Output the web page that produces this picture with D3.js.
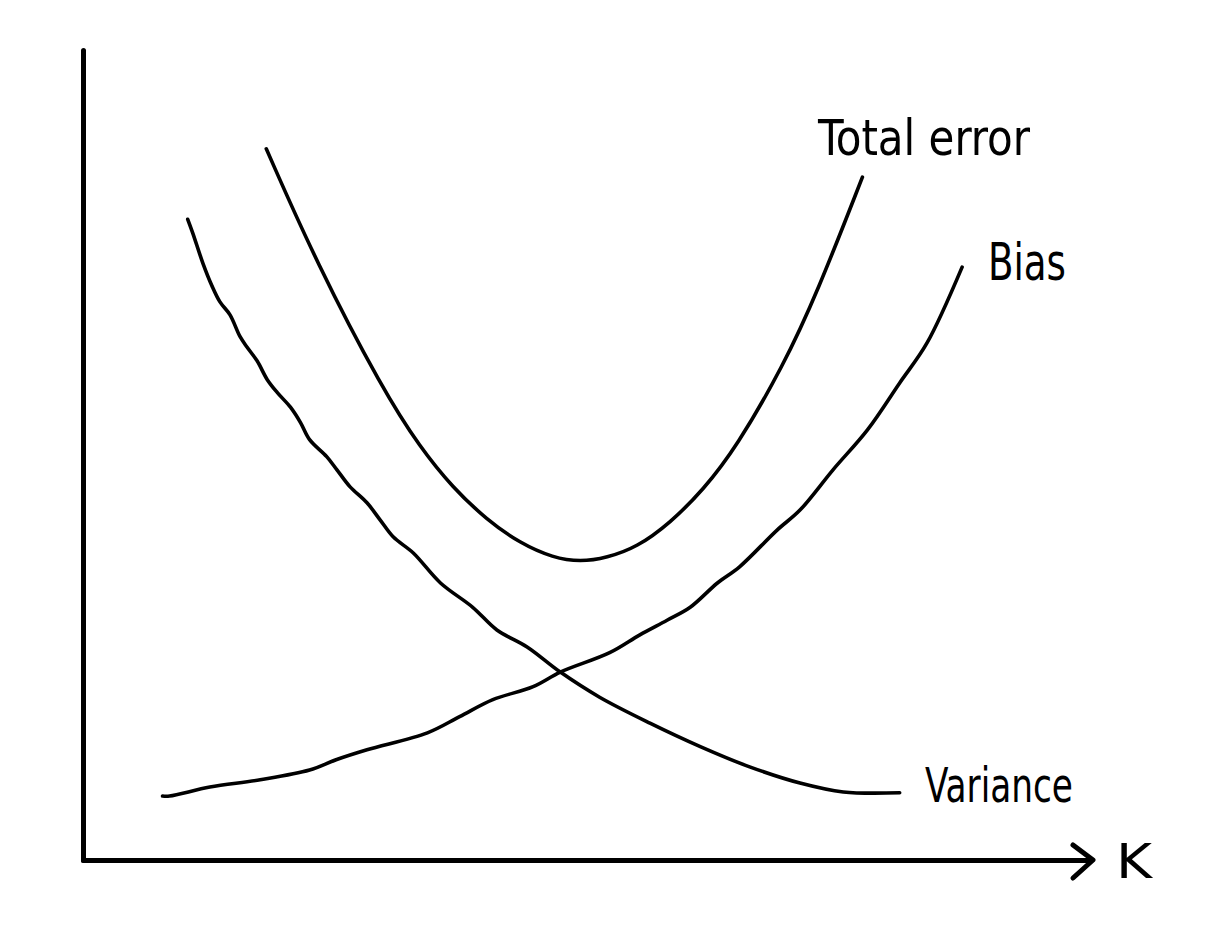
<!DOCTYPE html>
<html>
<head>
<meta charset="utf-8">
<script src="https://cdn.jsdelivr.net/npm/d3@7"></script>
<style>
  html, body { margin: 0; padding: 0; background: #fff; }
  svg text { font-family: "Liberation Sans Narrow", "DejaVu Sans Condensed", "Noto Sans", sans-serif; fill: #000; }
</style>
</head>
<body>
<svg id="grafico" width="1215" height="927"></svg>
<script>
// Dados (x = K, y = erro), em unidades de 0 a 100
const totalX = [18.2, 23.2, 29.8, 33.5, 36.7, 40.1, 43.4, 46.7, 49.4, 52.0, 55.0, 58.3, 61.6, 64.9, 69.5, 72.9, 77.4];
const totalY = [87.8, 73.7, 58.0, 50.9, 46.0, 42.0, 39.1, 37.3, 36.8, 37.3, 38.6, 41.6, 45.7, 51.0, 60.9, 70.0, 84.3];

const biasX = [7.9, 8.6, 12.6, 17.6, 22.5, 25.2, 28.2, 34.2, 37.4, 40.7, 44.7, 47.4, 52.3, 55.3, 58.0, 60.3, 63.0, 65.2, 68.9, 71.2, 74.5, 77.9, 81.1, 83.8, 87.3];
const biasY = [7.9, 7.9, 9.0, 9.9, 11.1, 12.4, 13.6, 15.7, 17.7, 19.8, 21.4, 23.2, 25.6, 27.8, 29.6, 31.2, 34.2, 36.2, 40.7, 43.2, 48.2, 53.1, 58.9, 63.8, 73.2];

const varX = [10.4, 10.9, 11.9, 12.8, 13.6, 14.6, 15.6, 16.3, 17.3, 18.3, 19.3, 20.6, 21.6, 22.5, 24.2, 25.2, 26.5, 28.2, 29.5, 30.8, 32.8, 35.5, 38.7, 41.1, 44.1, 47.4, 51.3, 56.3, 61.3, 66.2, 71.2, 75.5, 81.1];
const varY = [79.1, 77.4, 73.7, 70.9, 68.9, 67.3, 64.6, 63.3, 61.6, 59.3, 57.7, 55.9, 54.0, 51.9, 49.8, 48.2, 46.1, 44.1, 42.0, 39.9, 37.9, 34.2, 31.2, 28.4, 26.3, 23.2, 20.1, 16.9, 14.0, 11.5, 9.5, 8.4, 8.3];

const rotulos = ["Total error", "Bias", "Variance"];
const rotuloEixo = "K";

const svg = d3.select("#grafico");

// Escalas
const x = d3.scaleLinear().domain([0, 100]).range([83, 1090]);
const y = d3.scaleLinear().domain([0, 100]).range([860, 50]);

// Eixos sem marcas
svg.append("g")
    .attr("transform", "translate(0," + y(0) + ")")
    .call(d3.axisBottom(x).tickValues([]).tickSizeOuter(0));
svg.append("g")
    .attr("transform", "translate(" + x(0) + ",0)")
    .call(d3.axisLeft(y).tickValues([]).tickSizeOuter(0));
svg.selectAll(".domain")
    .attr("stroke", "#000")
    .attr("stroke-width", 5)
    .attr("stroke-linecap", "round");

// Seta no fim do eixo x
const pontaX = x.range()[1] + 3, pontaY = y(0);
svg.append("path")
    .attr("d", d3.line()([[pontaX - 20, pontaY - 15], [pontaX, pontaY], [pontaX - 20, pontaY + 18]]))
    .attr("fill", "none")
    .attr("stroke", "#000")
    .attr("stroke-width", 5)
    .attr("stroke-linecap", "round")
    .attr("stroke-linejoin", "round");

// Curvas: a do erro total é lisa, as outras são tremidas (à mão)
const series = [
    {pts: d3.zip(totalX, totalY), curva: d3.curveBasis},
    {pts: d3.zip(biasX, biasY), curva: d3.curveCatmullRom.alpha(0.5)},
    {pts: d3.zip(varX, varY), curva: d3.curveCatmullRom.alpha(0.5)}
];

svg.selectAll("path.curva")
    .data(series)
    .join("path")
    .attr("class", "curva")
    .attr("d", s => d3.line().x(d => x(d[0])).y(d => y(d[1])).curve(s.curva)(s.pts))
    .attr("fill", "none")
    .attr("stroke", "#000")
    .attr("stroke-width", 3.6)
    .attr("stroke-linecap", "round")
    .attr("stroke-linejoin", "round");

// Rótulos
const posRotulos = [
    {px: 818, py: 155, tam: 50, larg: 212},
    {px: 988, py: 280, tam: 52, larg: 78},
    {px: 925, py: 802, tam: 48, larg: 148}
];

rotulos.forEach((t, i) => {
    const p = posRotulos[i];
    svg.append("text")
        .attr("x", p.px)
        .attr("y", p.py)
        .attr("font-size", p.tam)
        .attr("textLength", p.larg)
        .attr("lengthAdjust", "spacingAndGlyphs")
        .text(t);
});

svg.append("text")
    .attr("x", 1116)
    .attr("y", 878)
    .attr("font-size", 48)
    .attr("textLength", 36)
    .attr("lengthAdjust", "spacingAndGlyphs")
    .text(rotuloEixo);
</script>
</body>
</html>
